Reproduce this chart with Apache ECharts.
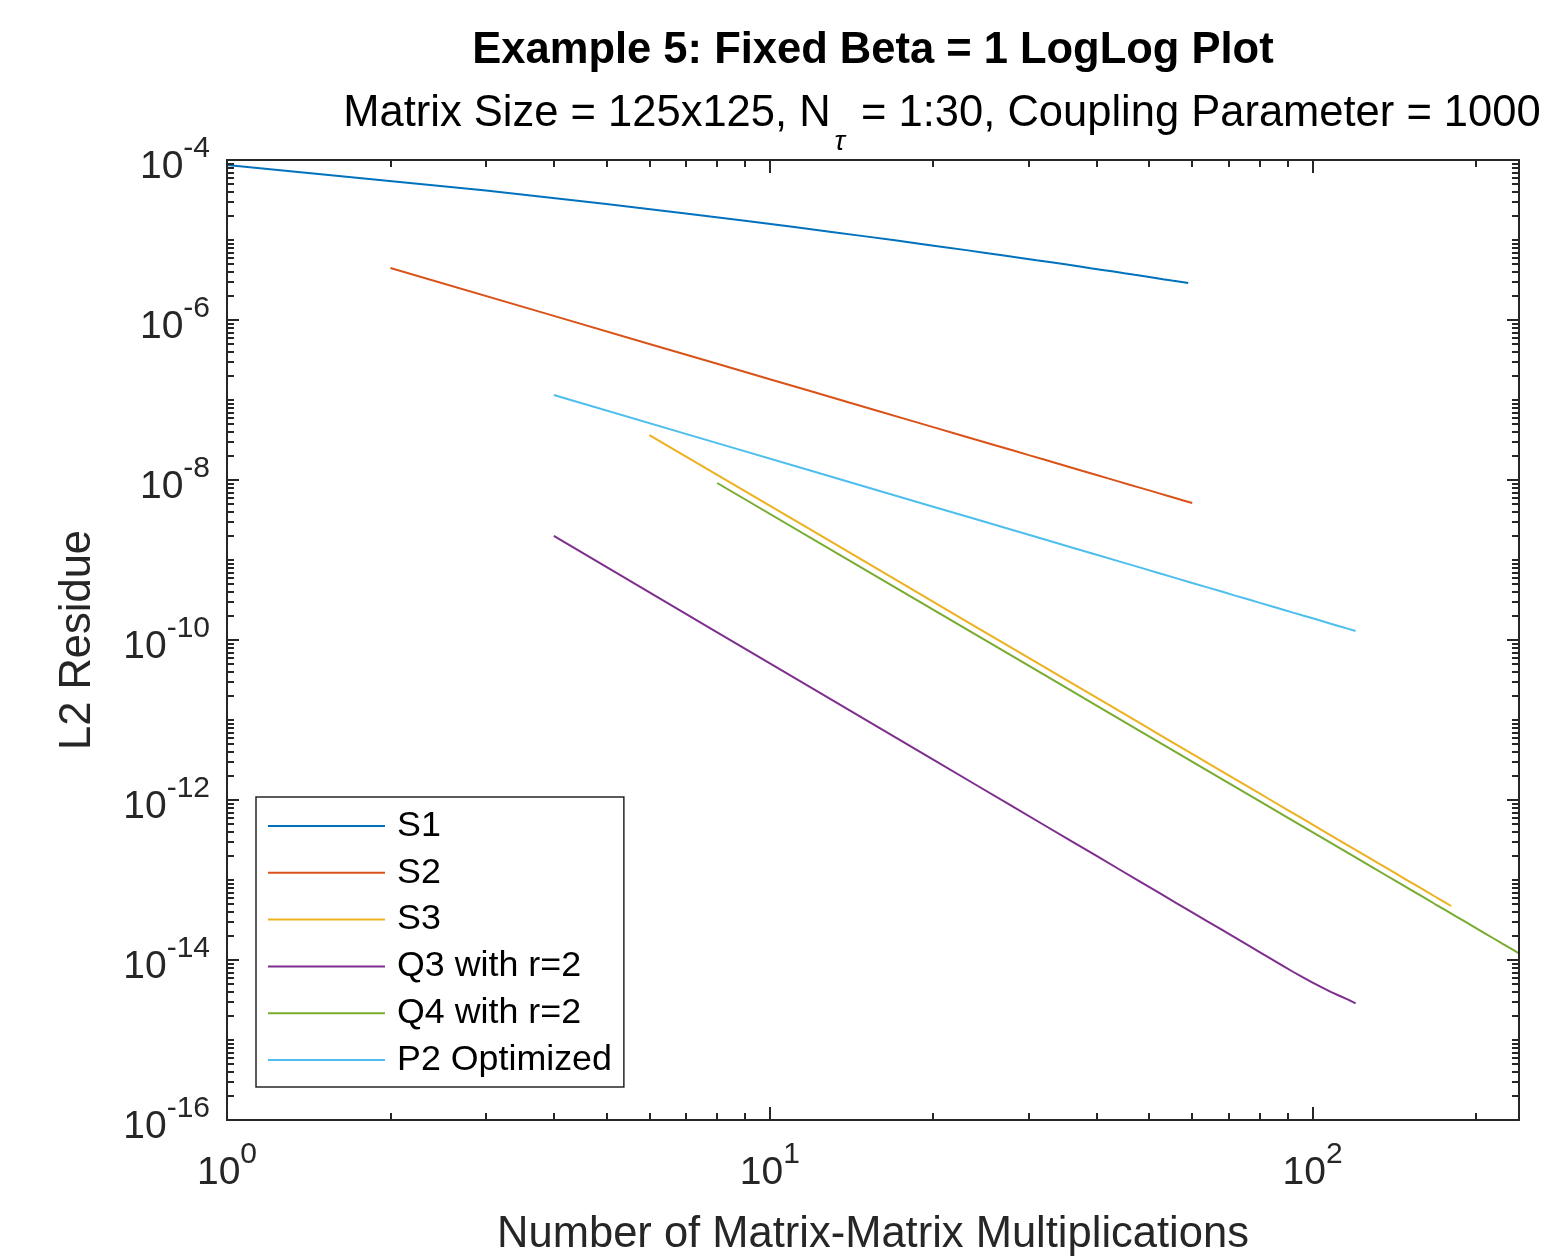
<!DOCTYPE html>
<html><head><meta charset="utf-8">
<script src="https://cdn.jsdelivr.net/npm/echarts@6/dist/echarts.min.js"></script>
<style>html,body{margin:0;padding:0;background:#fff}#c{width:1547px;height:1258px}</style>
</head><body><div id="c"></div>
<script>
// ---- data ----
const SERIES_NAMES = ['S1', 'S2', 'S3', 'Q3 with r=2', 'Q4 with r=2', 'P2 Optimized'];

const S1_X = [1,3,5,7,9,11,13,15,17,19,21,23,25,27,29,31,33,35,37,39,41,43,45,47,49,51,53,55,57,59];
const S1_Y = [8.66e-5,4.15e-5,2.82e-5,2.15e-5,1.74e-5,1.46e-5,1.26e-5,1.11e-5,9.91e-6,8.94e-6,
              8.14e-6,7.47e-6,6.90e-6,6.40e-6,5.97e-6,5.59e-6,5.26e-6,4.96e-6,4.69e-6,4.44e-6,
              4.23e-6,4.03e-6,3.84e-6,3.67e-6,3.52e-6,3.38e-6,3.24e-6,3.12e-6,3.01e-6,2.90e-6];

const S2_X = [2,4,6,8,10,12,14,16,18,20,22,24,26,28,30,32,34,36,38,40,42,44,46,48,50,52,54,56,58,60];
const S2_Y = [4.47e-6,1.125e-6,5.02e-7,2.835e-7,1.818e-7,1.266e-7,9.31e-8,7.14e-8,5.65e-8,4.58e-8,
              3.79e-8,3.19e-8,2.72e-8,2.35e-8,2.045e-8,1.80e-8,1.594e-8,1.423e-8,1.278e-8,1.154e-8,
              1.047e-8,9.55e-9,8.74e-9,8.03e-9,7.41e-9,6.85e-9,6.35e-9,5.91e-9,5.51e-9,5.15e-9];

const S3_X = [6,12,18,24,30,36,42,48,54,60,66,72,78,84,90,96,102,108,114,120,126,132,138,144,150,156,162,168,174,180];
const S3_Y = [3.65e-8,2.305e-9,4.58e-10,1.453e-10,5.97e-11,2.888e-11,1.563e-11,9.18e-12,5.74e-12,3.77e-12,
              2.58e-12,1.823e-12,1.326e-12,9.86e-13,7.49e-13,5.79e-13,4.55e-13,3.62e-13,2.92e-13,2.38e-13,
              1.96e-13,1.628e-13,1.364e-13,1.151e-13,9.78e-14,8.36e-14,7.19e-14,6.22e-14,5.41e-14,4.73e-14];

const Q3_X = [4,8,12,16,20,24,28,32,36,40,44,48,52,56,60,64,68,72,76,80,84,88,92,96,100,104,108,112,116,120];
const Q3_Y = [2.00e-9,1.247e-10,2.46e-11,7.79e-12,3.19e-12,1.540e-12,8.31e-13,4.87e-13,3.04e-13,2.00e-13,
              1.363e-13,9.62e-14,6.99e-14,5.19e-14,3.94e-14,3.04e-14,2.39e-14,1.90e-14,1.53e-14,1.247e-14,
              1.026e-14,8.52e-15,7.13e-15,6.05e-15,5.21e-15,4.535e-15,4.005e-15,3.577e-15,3.22e-15,2.87e-15];

const Q4_X = [8,16,24,32,40,48,56,64,72,80,88,96,104,112,120,128,136,144,152,160,168,176,184,192,200,208,216,224,232,240];
const Q4_Y = [9.17e-9,5.81e-10,1.158e-10,3.68e-11,1.516e-11,7.33e-12,3.97e-12,2.335e-12,1.462e-12,9.60e-13,
              6.57e-13,4.65e-13,3.38e-13,2.518e-13,1.912e-13,1.480e-13,1.163e-13,9.25e-14,7.46e-14,6.09e-14,
              5.01e-14,4.17e-14,3.49e-14,2.946e-14,2.505e-14,2.142e-14,1.843e-14,1.594e-14,1.387e-14,1.212e-14];

const P2_X = [4,8,12,16,20,24,28,32,36,40,44,48,52,56,60,64,68,72,76,80,84,88,92,96,100,104,108,112,116,120];
const P2_Y = [1.155e-7,2.893e-8,1.287e-8,7.25e-9,4.64e-9,3.225e-9,2.37e-9,1.815e-9,1.435e-9,1.163e-9,
              9.61e-10,8.08e-10,6.89e-10,5.94e-10,5.17e-10,4.55e-10,4.03e-10,3.59e-10,3.23e-10,2.91e-10,
              2.64e-10,2.41e-10,2.20e-10,2.02e-10,1.866e-10,1.725e-10,1.60e-10,1.488e-10,1.387e-10,1.296e-10];

// axis ranges and tick labels (exponents of 10)
const X_MIN = 1, X_MAX = 240;
const Y_MIN = 1e-16, Y_MAX = 1e-4;
const X_TICK_EXP = [0, 1, 2];
const Y_TICK_EXP = [-16, -14, -12, -10, -8, -6, -4];
const MINOR_MULT = [2, 3, 4, 5, 6, 7, 8, 9];

// ---- styling ----
const FONT = '"Liberation Sans", Arial, Helvetica, sans-serif';
const AX = '#262626';
const COLORS = ['#0072BD', '#D95319', '#EDB120', '#7E2F8E', '#77AC30', '#4DBEEE'];
const XS = [S1_X, S2_X, S3_X, Q3_X, Q4_X, P2_X];
const YS = [S1_Y, S2_Y, S3_Y, Q3_Y, Q4_Y, P2_Y];

// minor tick positions in log10 space
const LX_MAX = Math.log10(X_MAX);
const xMinor = [];
X_TICK_EXP.forEach(d => MINOR_MULT.forEach(k => {
  const v = Math.log10(k) + d; if (v < LX_MAX) xMinor.push(v);
}));
const yMinor = [];
for (let d = Y_TICK_EXP[0]; d < Y_TICK_EXP[Y_TICK_EXP.length - 1]; d++) {
  [1].concat(MINOR_MULT).forEach(k => {
    if (k === 1 && Y_TICK_EXP.indexOf(d) >= 0) return;
    yMinor.push(Math.log10(k) + d);
  });
}

const labelRich = {
  b: { fontFamily: FONT, fontSize: 39, height: 39, lineHeight: 53, verticalAlign: 'bottom', color: AX },
  s: { fontFamily: FONT, fontSize: 30, height: 30, lineHeight: 20, verticalAlign: 'top', color: AX }
};
const powFmt = v => '{b|10}{s|' + Math.round(v) + '}';

function decoAxis(kind, pos, ticks, len, showLine, labelVals, extra) {
  const isX = kind === 'x';
  const ax = {
    type: 'value', gridIndex: 0, position: pos,
    min: isX ? 0 : Y_TICK_EXP[0], max: isX ? LX_MAX : Y_TICK_EXP[Y_TICK_EXP.length - 1],
    axisLine: { show: showLine, onZero: false, lineStyle: { color: AX, width: 2 } },
    axisTick: { show: true, inside: true, length: len, customValues: ticks, lineStyle: { color: AX, width: 2 } },
    axisLabel: labelVals ? {
      show: true, customValues: labelVals, formatter: powFmt, rich: labelRich,
      margin: isX ? 20 : 17, color: AX, fontFamily: FONT
    } : { show: false },
    splitLine: { show: false }, minorTick: { show: false }, minorSplitLine: { show: false },
    z: 5
  };
  return Object.assign(ax, extra || {});
}

const option = {
  animation: false,
  backgroundColor: '#ffffff',
  title: [
    { text: 'Example 5: Fixed Beta = 1 LogLog Plot', left: 873, top: 26, textAlign: 'center', padding: 0,
      textStyle: { fontFamily: FONT, fontSize: 43.5, fontWeight: 'bold', color: '#000', lineHeight: 50 } },
    { text: 'Matrix Size = 125x125, N{t|τ} = 1:30, Coupling Parameter = 1000', left: 942, top: 72, textAlign: 'center', padding: 0,
      textStyle: { fontFamily: FONT, fontSize: 43.5, fontWeight: 'normal', color: '#000', lineHeight: 84,
        rich: { t: { fontFamily: FONT, fontSize: 28, fontStyle: 'italic', height: 28, lineHeight: 28, verticalAlign: 'bottom', padding: [0, 4, 0, 4], color: '#000' } } } }
  ],
  grid: { left: 227, right: 28, top: 160, bottom: 138, containLabel: false, outerBoundsMode: 'none', show: false },
  legend: {
    orient: 'vertical', left: 256, top: 797, padding: [11, 12, 9, 12], itemGap: 10.8,
    itemWidth: 117, itemHeight: 2, icon: 'rect', selectedMode: false,
    backgroundColor: '#ffffff', borderColor: AX, borderWidth: 1.5, borderRadius: 0,
    itemStyle: { borderWidth: 0 },
    textStyle: { fontFamily: FONT, fontSize: 35.8, lineHeight: 36, color: '#000', padding: [0, 0, 0, 7] },
    data: SERIES_NAMES
  },
  xAxis: [
    { type: 'log', gridIndex: 0, min: X_MIN, max: X_MAX, logBase: 10, show: false, axisLine: { onZero: false } },
    decoAxis('x', 'bottom', X_TICK_EXP, 13, true, X_TICK_EXP, {
      name: 'Number of Matrix-Matrix Multiplications', nameLocation: 'middle', nameGap: 94,
      nameTextStyle: { fontFamily: FONT, fontSize: 43.5, color: AX, lineHeight: 42 } }),
    decoAxis('x', 'bottom', xMinor, 7, false, null),
    decoAxis('x', 'top', X_TICK_EXP, 13, true, null),
    decoAxis('x', 'top', xMinor, 7, false, null)
  ],
  yAxis: [
    { type: 'log', gridIndex: 0, min: Y_MIN, max: Y_MAX, logBase: 10, show: false, axisLine: { onZero: false } },
    decoAxis('y', 'left', Y_TICK_EXP, 12, true, Y_TICK_EXP, {
      name: 'L2 Residue', nameLocation: 'middle', nameGap: 128, nameRotate: 90,
      nameTextStyle: { fontFamily: FONT, fontSize: 43.5, color: AX, lineHeight: 42 } }),
    decoAxis('y', 'left', yMinor, 7, false, null),
    decoAxis('y', 'right', Y_TICK_EXP, 12, true, null),
    decoAxis('y', 'right', yMinor, 7, false, null)
  ],
  series: SERIES_NAMES.map((n, i) => ({
    name: n, type: 'line', xAxisIndex: 0, yAxisIndex: 0,
    data: XS[i].map((x, j) => [x, YS[i][j]]),
    symbol: 'none', showSymbol: false, smooth: false,
    color: COLORS[i],
    lineStyle: { color: COLORS[i], width: 2 },
    itemStyle: { color: COLORS[i] },
    emphasis: { disabled: true },
    z: 3
  }))
};

const chart = echarts.init(document.getElementById('c'), null, { renderer: 'canvas' });
chart.setOption(option);
</script></body></html>
